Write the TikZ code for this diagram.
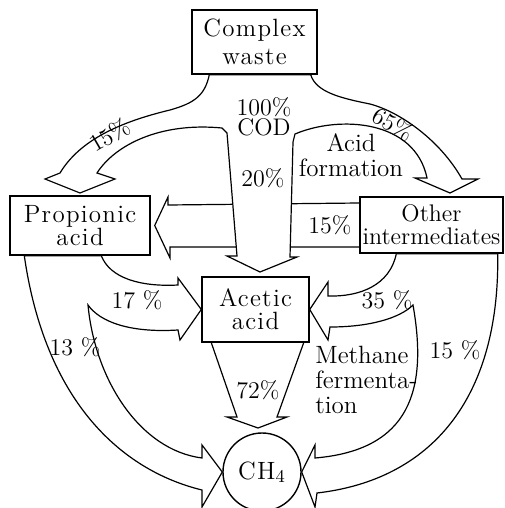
\documentclass[tikz,border=0pt]{standalone}
\usepackage{fontspec}
\usetikzlibrary{calc,backgrounds}

\newfontfamily\boxfont[LetterSpace=5]{Latin Modern Roman}

\tikzset{
  box/.style={draw, line width=0.7pt, fill=white, inner sep=0pt, align=center,
    font=\fontsize{12}{11.5}\selectfont},
  spaced/.style={font=\boxfont\fontsize{12.5}{11.5}\selectfont},
  flow/.style={draw, line width=0.6pt, fill=white, line join=miter},
  pct/.style={inner sep=1pt, font=\fontsize{12}{12.5}\selectfont},
  note/.style={inner sep=1pt, font=\fontsize{12.5}{12.5}\selectfont},
}

\begin{document}
\begin{tikzpicture}[x=0.5pt, y=-0.5pt]

\useasboundingbox (0,0) rectangle (504,508);

\node[box, minimum width=62.5pt, minimum height=32pt, font=\boxfont\fontsize{12.5}{14}\selectfont] (waste) at (254.5,42) {Complex\\waste};
\node[box, spaced, minimum width=70pt, minimum height=29.5pt] (prop) at (80,225.5) {Propionic\\acid};
\node[box, minimum width=71.5pt, minimum height=28pt] (other) at (431.5,225) {Other\\intermediates};
\node[box, spaced, minimum width=53.5pt, minimum height=32.5pt] (acetic) at (255.5,309.5) {Acetic\\acid};
\node[box, spaced, circle, minimum size=39pt] (ch4) at (262,472) {CH$_4$};

\begin{scope}[on background layer]
% 15% from other intermediates to propionic acid
\draw[flow] ($(other.west)+(0,-22)$) -- (168,205) -- (168,197) -- ($(prop.east)+(4,0)$)
  -- (170,258) -- (170,247) -- ($(other.west)+(0,22)$);

% acid formation
\draw[flow] ($(waste.south west)+(18,0)$)
  .. controls (205,95) and (195,103) .. (170,110)
  .. controls (120,122) and (80,140) .. (60,173)
  -- (45,179) -- (80,193) -- (115,179) -- (97,173)
  .. controls (115,145) and (160,122) .. (222,128)
  -- (227,133) -- (237,256) -- (227,256) -- (260,272) -- (297,257) -- (290,257) -- (293,142)
  -- (295,134)
  .. controls (340,115) and (415,120) .. (427,178)
  -- (415,178) -- (450,193) -- (478,179) -- (462,179)
  .. controls (440,140) and (400,112) .. (370,104)
  .. controls (340,98) and (316,92) .. ($(waste.south east)+(-7,0)$) -- cycle;

% methane fermentation
\draw[flow] ($(prop.south west)+(92,0)$)
  .. controls (110,278) and (140,287) .. (178,285)
  -- (178,278) -- (acetic.west) -- (180,340) -- (178,330)
  .. controls (130,333) and (100,322) .. (88,305)
  .. controls (95,380) and (140,450) .. (202,458)
  -- (202,445) -- (ch4.west) -- (202,507) -- (202,490)
  .. controls (120,470) and (45,400) .. ($(prop.south west)+(15,0)$) -- cycle;

\draw[flow] ($(other.south west)+(37,0)$)
  .. controls (390,285) and (360,297) .. (328,296)
  -- (328,282) -- (acetic.east) -- (328,340) -- (330,327)
  .. controls (370,327) and (400,318) .. (413,305)
  .. controls (428,390) and (410,450) .. (315,458)
  -- (315,445) -- (ch4.east) -- (315,507) -- (317,493)
  .. controls (430,480) and (500,400) .. ($(other.south east)+(-6,0)$) -- cycle;

\draw[flow] ($(acetic.south west)+(10,0)$) -- (237,417) -- (227,417) -- (258,428)
  -- (287,417) -- (277,417) -- ($(acetic.south east)+(-6,0)$);
\end{scope}

\node[pct, align=center, font=\fontsize{12}{10}\selectfont] (lcod) at (264,117) {100\%\\COD};
\node[pct] (l20) at (263,178) {20\%};
\node[note, align=center] (lacid) at (351,155) {Acid\\formation};
\node[pct] (l15a) at (330,225) {15\%};
\node[pct, rotate=30] (l15b) at (110,135) {15\%};
\node[pct, rotate=-30] (l65) at (393,124) {65\%};
\node[pct] (l17) at (137,300) {17 \%};
\node[pct] (l13) at (75,347) {13 \%};
\node[pct] (l35) at (387,300) {35 \%};
\node[pct] (l15c) at (455,350) {15 \%};
\node[pct] (l72) at (258,390) {72\%};
\node[note, align=left, anchor=north west] (lmeth) at (313,344) {Methane\\fermenta-\\tion};

\end{tikzpicture}
\end{document}
